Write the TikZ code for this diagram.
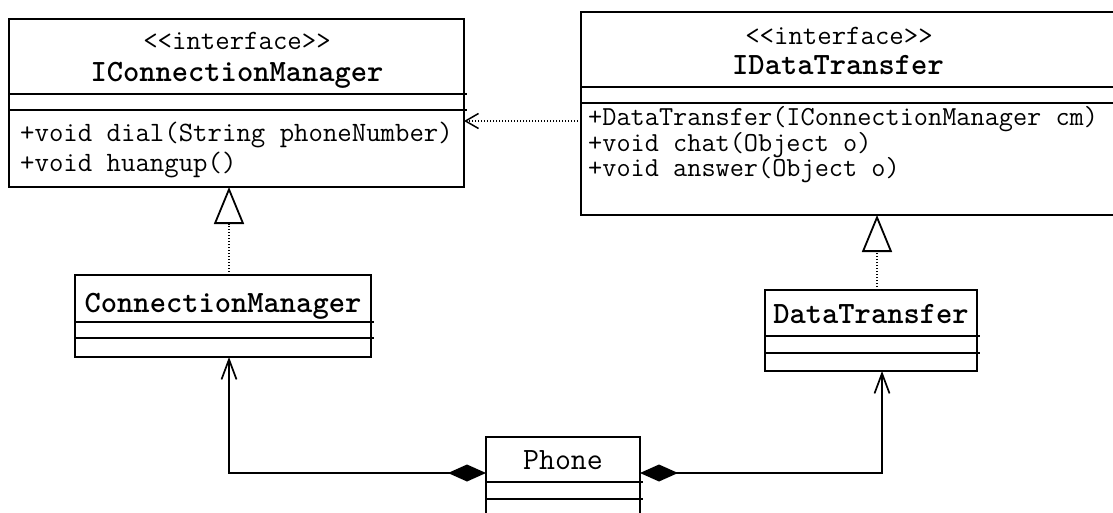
\documentclass[tikz,border=0pt]{standalone}
\usetikzlibrary{arrows.meta}
\begin{document}
\begin{tikzpicture}[x=1pt,y=-1pt,
  cls/.style={draw, line width=1.8pt, inner sep=0pt, outer sep=0pt, anchor=north west},
  divl/.style={line width=1.8pt},
  sttxt/.style={inner sep=0pt, anchor=base, font=\fontsize{28}{30}\selectfont\ttfamily},
  nmtxt/.style={inner sep=0pt, anchor=base, font=\fontsize{31}{33}\selectfont\ttfamily\bfseries},
  phtxt/.style={inner sep=0pt, anchor=base, font=\fontsize{31}{33}\selectfont\ttfamily},
  mtxt/.style={inner sep=0pt, anchor=base west, font=\fontsize{28}{30}\selectfont\ttfamily},
  mtxtb/.style={inner sep=0pt, anchor=base west, font=\fontsize{27.5}{30}\selectfont\ttfamily},
  realize/.style={line width=1.5pt, dash pattern=on 1.5pt off 1.5pt,
    -{Triangle[open, length=37pt, width=30pt, line width=1.8pt]}},
  dep/.style={line width=1.5pt, dash pattern=on 1.5pt off 1.5pt,
    -{Straight Barb[length=13pt, width=15pt, line width=1.5pt]}},
  comp/.style={line width=1.9pt,
    {Diamond[length=38pt, width=17pt]}-{Straight Barb[length=20pt, width=15pt, line width=1.7pt]}}
]
\useasboundingbox (0,0) rectangle (1113,513);

% IConnectionManager
\node[cls, minimum width=455pt, minimum height=168pt] (icm) at (9,19) {};
\draw[divl] (9,94) -- (467,94);
\draw[divl] (9,110) -- (467,110);
\node[sttxt] (icmst) at (237,50) {<<interface>>};
\node[nmtxt] (icmnm) at (237,82) {IConnectionManager};
\node[mtxt] (icmm1) at (20,141.5) {+void dial(String phoneNumber)};
\node[mtxt] (icmm2) at (20,171.5) {+void huangup()};

% IDataTransfer
\node[cls, minimum width=545pt, minimum height=203pt] (idt) at (581,12) {};
\draw[divl] (581,87) -- (1126,87);
\draw[divl] (581,103) -- (1126,103);
\node[sttxt] (idtst) at (839,45) {<<interface>>};
\node[nmtxt] (idtnm) at (838,75) {IDataTransfer};
\node[mtxtb] (idtm1) at (588,126) {+DataTransfer(IConnectionManager cm)};
\node[mtxtb] (idtm2) at (588,152) {+void chat(Object o)};
\node[mtxtb] (idtm3) at (588,177) {+void answer(Object o)};

% ConnectionManager
\node[cls, minimum width=296pt, minimum height=82pt] (cm) at (75,275) {};
\draw[divl] (75,322) -- (374,322);
\draw[divl] (75,338) -- (374,338);
\node[nmtxt] (cmnm) at (223,312) {ConnectionManager};

% DataTransfer
\node[cls, minimum width=212pt, minimum height=81pt] (dt) at (765,290) {};
\draw[divl] (765,336) -- (980,336);
\draw[divl] (765,353) -- (980,353);
\node[nmtxt] (dtnm) at (871,323) {DataTransfer};

% Phone
\node[cls, minimum width=154pt, minimum height=100pt] (phone) at (486,437) {};
\draw[divl] (486,482) -- (643,482);
\draw[divl] (486,499) -- (643,499);
\node[phtxt] (phnm) at (563,469) {Phone};

% connectors
\coordinate (rl) at (229,0);
\coordinate (rr) at (877,0);
\coordinate (dy) at (0,121);
\coordinate (jl) at (229,473);
\coordinate (jr) at (882,473);

\draw[realize] (rl |- cm.north) -- (rl |- icm.south);
\draw[realize] (rr |- dt.north) -- (rr |- idt.south);
\draw[dep] (idt.west |- dy) -- (icm.east |- dy);
\draw[comp] (phone.west |- jl) -- (jl) -- (jl |- cm.south);
\draw[comp] (phone.east |- jr) -- (jr) -- (jr |- dt.south);
\end{tikzpicture}
\end{document}
